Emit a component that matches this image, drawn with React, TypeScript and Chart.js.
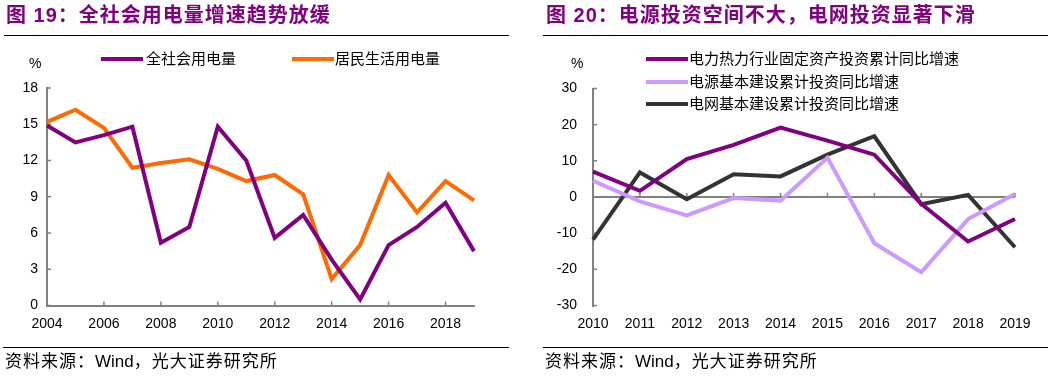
import React, { useEffect, useRef } from "react";
import { Chart, registerables } from "chart.js";

Chart.register(...registerables);

// ---------- Data ----------
const leftYears = ["2004", "2005", "2006", "2007", "2008", "2009", "2010", "2011", "2012", "2013", "2014", "2015", "2016", "2017", "2018", "2019"];
const totalPowerGrowth = [14.9, 13.5, 14.1, 14.8, 5.2, 6.5, 14.8, 12.0, 5.6, 7.5, 3.8, 0.5, 5.0, 6.5, 8.5, 4.5];
const residentialPowerGrowth = [15.2, 16.2, 14.7, 11.4, 11.8, 12.1, 11.3, 10.3, 10.8, 9.2, 2.2, 5.0, 10.8, 7.7, 10.3, 8.7];
const leftYMin = 0;
const leftYMax = 18;
const leftYStep = 3;

const rightYears = ["2010", "2011", "2012", "2013", "2014", "2015", "2016", "2017", "2018", "2019"];
const powerHeatInvestGrowth = [7.0, 1.7, 10.5, 14.4, 19.2, 15.6, 11.7, -1.9, -12.3, -6.1];
const generationInvestGrowth = [4.5, -1.2, -5.1, -0.3, -1.0, 10.9, -12.8, -20.8, -6.1, 0.8];
const gridInvestGrowth = [-11.8, 6.8, -0.6, 6.3, 5.7, 11.7, 16.8, -2.0, 0.6, -13.9];
const rightYMin = -30;
const rightYMax = 30;
const rightYStep = 10;

const leftSeriesNames = ["全社会用电量", "居民生活用电量"];
const rightSeriesNames = ["电力热力行业固定资产投资累计同比增速", "电源基本建设累计投资同比增速", "电网基本建设累计投资同比增速"];

const PURPLE = "#800080";
const ORANGE = "#FF6A00";
const LILAC = "#CC99FF";
const DARK = "#333333";
const AXIS = "#808080";
const TICK_FONT = { family: "'Liberation Sans', Arial, sans-serif", size: 14 };
const CJK = "'Liberation Sans', 'Noto Sans CJK SC', sans-serif";

function innerTicksPlugin(xEvery: number, xAtZero: boolean) {
  return {
    id: "innerTicks",
    beforeDatasetsDraw(chart: any) {
      const { ctx, chartArea, scales } = chart;
      const x = scales.x;
      const y = scales.y;
      ctx.save();
      ctx.strokeStyle = AXIS;
      ctx.lineWidth = 1.5;
      ctx.beginPath();
      y.ticks.forEach((t: any) => {
        const py = y.getPixelForValue(t.value);
        ctx.moveTo(chartArea.left, py);
        ctx.lineTo(chartArea.left + 4, py);
      });
      const baseY = xAtZero ? y.getPixelForValue(0) : chartArea.bottom;
      x.ticks.forEach((_t: any, i: number) => {
        if (i % xEvery !== 0) return;
        const px = x.getPixelForTick(i);
        ctx.moveTo(px, baseY);
        ctx.lineTo(px, baseY - 4);
      });
      ctx.stroke();
      ctx.restore();
    },
  };
}

function LeftChart() {
  const ref = useRef<HTMLCanvasElement>(null);
  useEffect(() => {
    if (!ref.current) return;
    const chart = new Chart(ref.current, {
      type: "line",
      data: {
        labels: leftYears,
        datasets: [
          { label: leftSeriesNames[0], data: totalPowerGrowth, borderColor: PURPLE, borderWidth: 4, pointRadius: 0, tension: 0, fill: false },
          { label: leftSeriesNames[1], data: residentialPowerGrowth, borderColor: ORANGE, borderWidth: 4, pointRadius: 0, tension: 0, fill: false },
        ],
      },
      options: {
        animation: false,
        responsive: true,
        maintainAspectRatio: false,
        layout: { padding: { left: 0, right: 54, top: 88, bottom: 43.5 } },
        plugins: { legend: { display: false }, tooltip: { enabled: false } },
        scales: {
          x: {
            type: "category",
            offset: false,
            grid: { display: false, drawTicks: false },
            border: { display: true, color: AXIS, width: 2 },
            ticks: {
              autoSkip: false,
              maxRotation: 0,
              padding: 10,
              color: "#000",
              font: TICK_FONT,
              callback: (_v: any, i: number) => (i % 2 === 0 ? leftYears[i] : ""),
            },
            afterFit: (s: any) => { s.height = 30; },
          },
          y: {
            min: leftYMin,
            max: leftYMax,
            grid: { display: false, drawTicks: false },
            border: { display: true, color: AXIS, width: 2 },
            ticks: { stepSize: leftYStep, padding: 9, color: "#000", font: TICK_FONT },
            afterFit: (s: any) => { s.width = 47; },
          },
        },
      },
      plugins: [innerTicksPlugin(2, false)],
    } as any);
    return () => chart.destroy();
  }, []);
  return (
    <div style={{ position: "absolute", left: 0, top: 0, width: 528, height: 379 }}>
      <canvas ref={ref} />
    </div>
  );
}

function RightChart() {
  const ref = useRef<HTMLCanvasElement>(null);
  useEffect(() => {
    if (!ref.current) return;
    const chart = new Chart(ref.current, {
      type: "line",
      data: {
        labels: rightYears,
        datasets: [
          { label: rightSeriesNames[0], data: powerHeatInvestGrowth, borderColor: PURPLE, borderWidth: 4, pointRadius: 0, tension: 0, fill: false },
          { label: rightSeriesNames[1], data: generationInvestGrowth, borderColor: LILAC, borderWidth: 4, pointRadius: 0, tension: 0, fill: false },
          { label: rightSeriesNames[2], data: gridInvestGrowth, borderColor: DARK, borderWidth: 4, pointRadius: 0, tension: 0, fill: false },
        ],
      },
      options: {
        animation: false,
        responsive: true,
        maintainAspectRatio: false,
        layout: { padding: { left: 0, right: 41, top: 88.5, bottom: 43.5 } },
        plugins: { legend: { display: false }, tooltip: { enabled: false } },
        scales: {
          x: {
            type: "category",
            offset: false,
            grid: { display: false, drawTicks: false },
            border: { display: false },
            ticks: { autoSkip: false, maxRotation: 0, padding: 10, color: "#000", font: TICK_FONT },
            afterFit: (s: any) => { s.height = 30; },
          },
          y: {
            min: rightYMin,
            max: rightYMax,
            grid: {
              display: true,
              drawTicks: false,
              lineWidth: 2,
              color: (c: any) => (c.tick && c.tick.value === 0 ? AXIS : "rgba(0,0,0,0)"),
            },
            border: { display: true, color: AXIS, width: 2 },
            ticks: { stepSize: rightYStep, padding: 16, color: "#000", font: TICK_FONT },
            afterFit: (s: any) => { s.width = 65; },
          },
        },
      },
      plugins: [innerTicksPlugin(1, true)],
    } as any);
    return () => chart.destroy();
  }, []);
  return (
    <div style={{ position: "absolute", left: 528, top: 0, width: 528, height: 379 }}>
      <canvas ref={ref} />
    </div>
  );
}

const abs = (s: React.CSSProperties): React.CSSProperties => ({ position: "absolute", ...s });

function LegendItem({ x, y, color, text, textX }: { x: number; y: number; color: string; text: string; textX: number }) {
  return (
    <>
      <div style={abs({ left: x, top: y - 2, width: 42, height: 4, background: color })} />
      <div style={abs({ left: textX, top: y - 10, height: 20, lineHeight: "20px", fontSize: 15, fontFamily: CJK, color: "#000", whiteSpace: "nowrap" })}>{text}</div>
    </>
  );
}

function Footer({ left }: { left: number }) {
  return (
    <div
      style={abs({
        left,
        top: 352,
        lineHeight: "20px",
        fontSize: 17,
        letterSpacing: 1,
        fontFamily: CJK,
        color: "#000",
        whiteSpace: "nowrap",
      })}
    >
      资料来源：<span style={{ letterSpacing: 0 }}>Wind</span>，光大证券研究所
    </div>
  );
}

export default function App() {
  const titleStyle: React.CSSProperties = {
    top: 3,
    lineHeight: "24px",
    fontSize: 20,
    fontWeight: "bold",
    fontFamily: CJK,
    color: PURPLE,
    letterSpacing: 1,
    whiteSpace: "nowrap",
  };
  return (
    <div style={{ position: "fixed", left: 0, top: 0, width: 1056, height: 379, background: "#fff", overflow: "hidden" }}>
      <LeftChart />
      <RightChart />

      <div style={abs({ ...titleStyle, left: 6 })}>图 19：全社会用电量增速趋势放缓</div>
      <div style={abs({ ...titleStyle, left: 546 })}>图 20：电源投资空间不大，电网投资显著下滑</div>
      <div style={abs({ left: 4, top: 34.5, width: 505, height: 1.5, background: "#000" })} />
      <div style={abs({ left: 543, top: 34.5, width: 505, height: 1.5, background: "#000" })} />

      <div style={abs({ left: 29, top: 54, lineHeight: "18px", fontSize: 14, fontFamily: TICK_FONT.family, color: "#000" })}>%</div>
      <LegendItem x={101} y={59.3} color={PURPLE} text={leftSeriesNames[0]} textX={146} />
      <LegendItem x={292} y={59.3} color={ORANGE} text={leftSeriesNames[1]} textX={335} />

      <div style={abs({ left: 571, top: 54, lineHeight: "18px", fontSize: 14, fontFamily: TICK_FONT.family, color: "#000" })}>%</div>
      <LegendItem x={646} y={59.3} color={PURPLE} text={rightSeriesNames[0]} textX={689} />
      <LegendItem x={646} y={82} color={LILAC} text={rightSeriesNames[1]} textX={689} />
      <LegendItem x={646} y={104} color={DARK} text={rightSeriesNames[2]} textX={689} />

      <div style={abs({ left: 3, top: 346.5, width: 506, height: 1.5, background: "#000" })} />
      <div style={abs({ left: 543, top: 346.5, width: 505, height: 1.5, background: "#000" })} />
      <Footer left={5} />
      <Footer left={545} />
    </div>
  );
}
